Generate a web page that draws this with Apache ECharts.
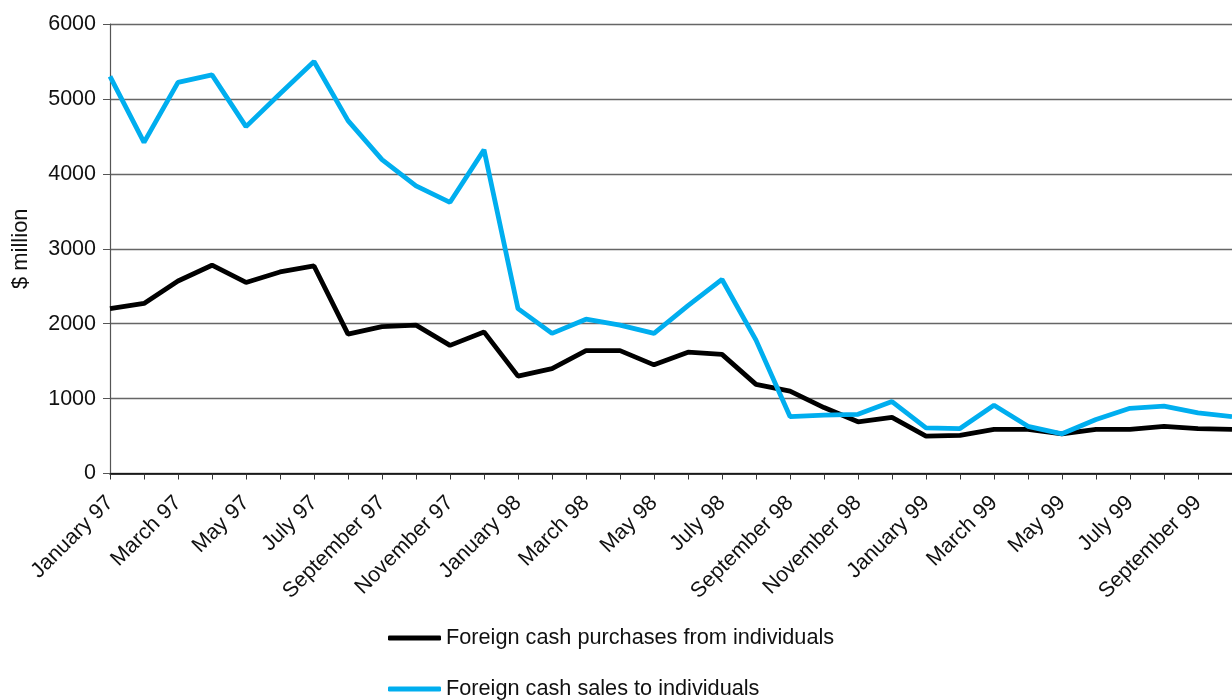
<!DOCTYPE html>
<html>
<head>
<meta charset="utf-8">
<script src="https://cdn.jsdelivr.net/npm/echarts@6/dist/echarts.min.js"></script>
<style>
html,body{margin:0;padding:0;background:#fff;}
#chart{width:1232px;height:700px;}
</style>
</head>
<body>
<div id="chart"></div>
<script>
const months = [
  'January 97','February 97','March 97','April 97','May 97','June 97','July 97','August 97','September 97','October 97','November 97','December 97',
  'January 98','February 98','March 98','April 98','May 98','June 98','July 98','August 98','September 98','October 98','November 98','December 98',
  'January 99','February 99','March 99','April 99','May 99','June 99','July 99','August 99','September 99','October 99'
];
const purchases = [
  2200,2270,2570,2780,2550,2690,2770,1860,1960,1980,1710,1890,
  1300,1400,1640,1640,1450,1620,1590,1190,1100,880,690,750,
  500,510,590,590,530,590,590,630,600,590
];
const sales = [
  5300,4420,5220,5320,4630,5070,5500,4710,4190,3840,3620,4320,
  2200,1870,2060,1980,1870,2240,2590,1780,760,780,790,960,
  610,600,910,630,530,720,870,900,810,760
];
const yTicks = [0,1000,2000,3000,4000,5000,6000];
const seriesNames = ['Foreign cash purchases from individuals','Foreign cash sales to individuals'];

const FONT = '"Liberation Sans", Arial, Helvetica, sans-serif';
const legendCommon = {
  orient:'vertical',
  left:388,
  padding:0,
  itemWidth:53, itemHeight:5,
  icon:'roundRect',
  textStyle:{fontSize:21.7, color:'#111', fontFamily:FONT}
};
const chart = echarts.init(document.getElementById('chart'), null, {renderer:'canvas'});
chart.setOption({
  animation:false,
  backgroundColor:'#fff',
  textStyle:{fontFamily:FONT},
  grid:{left:110, top:24, right:-6.6, bottom:226.5, containLabel:false},
  legend:[
    Object.assign({}, legendCommon, {top:627, data:[seriesNames[0]]}),
    Object.assign({}, legendCommon, {top:678, data:[seriesNames[1]]})
  ],
  xAxis:{
    type:'category',
    data:months,
    boundaryGap:false,
    axisLine:{lineStyle:{color:'#000', width:1.5}},
    axisTick:{show:true, interval:0, length:6, lineStyle:{color:'#333', width:1}},
    axisLabel:{interval:1, rotate:45, fontSize:21.5, color:'#111', margin:26, fontFamily:FONT,
      formatter:(v,i)=> i%2===0 ? v : ''},
    splitLine:{show:false}
  },
  yAxis:{
    type:'value',
    min:yTicks[0], max:yTicks[yTicks.length-1], interval:1000,
    name:'$ million',
    nameLocation:'middle',
    nameGap:78,
    nameRotate:90,
    nameTextStyle:{fontSize:22, color:'#111', fontFamily:FONT},
    axisLine:{show:true, lineStyle:{color:'#555', width:1.2}},
    axisTick:{show:true, length:7, lineStyle:{color:'#555', width:1}},
    axisLabel:{fontSize:21.5, color:'#111', margin:14, fontFamily:FONT,
      formatter:(v)=> String(v)},
    splitLine:{show:true, lineStyle:{color:'#666', width:1.3}}
  },
  series:[
    {name:seriesNames[0], type:'line', data:purchases, symbol:'none', smooth:false,
      lineStyle:{color:'#000', width:4.8}, itemStyle:{color:'#000'}, z:2},
    {name:seriesNames[1], type:'line', data:sales, symbol:'none', smooth:false,
      lineStyle:{color:'#00AEEF', width:4.8}, itemStyle:{color:'#00AEEF'}, z:3}
  ]
});
</script>
</body>
</html>
